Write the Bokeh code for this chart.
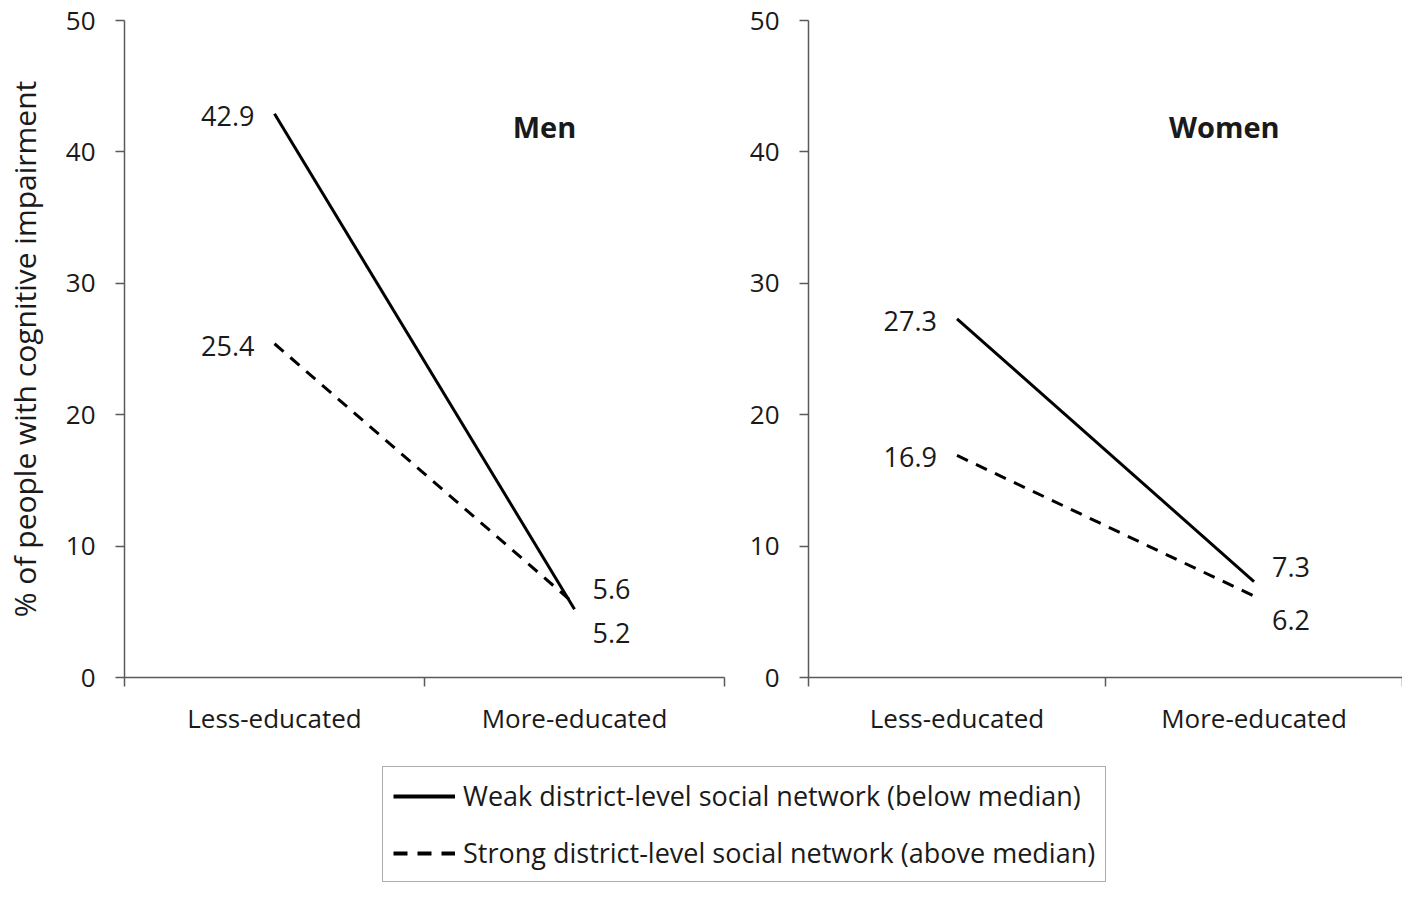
from bokeh.plotting import figure
from bokeh.models import Range1d, FixedTicker, Label, Legend, LegendItem, ColumnDataSource
from bokeh.layouts import column, row
from bokeh.embed import file_html
from bokeh.resources import INLINE
from bokeh.core.properties import value

# ---------------- data ----------------
categories = ["Less-educated", "More-educated"]
men_weak = [42.9, 5.2]
men_strong = [25.4, 5.6]
women_weak = [27.3, 7.3]
women_strong = [16.9, 6.2]
y_ticks = [0, 10, 20, 30, 40, 50]
series_labels = [
    "Weak district-level social network (below median)",
    "Strong district-level social network (above median)",
]
panel_titles = ["Men", "Women"]
y_title = "% of people with cognitive impairment"

# ---------------- style ----------------
FONT = "Open Sans"
TXT = "#1a1a1a"
AX = "#5a5a5a"
FS = "26px"
NUM_FS = "27px"
ROW_H = 766

xpos = [i + 0.5 for i in range(len(categories))]
bounds = [float(i) for i in range(len(categories) + 1)]


def make_panel(weak, strong, title, width, mb_left, mb_right, show_ytitle):
    p = figure(width=width, height=ROW_H, x_range=Range1d(0, len(categories)),
               y_range=Range1d(y_ticks[0], y_ticks[-1]),
               output_backend="svg", toolbar_location=None,
               min_border_left=mb_left, min_border_right=mb_right,
               min_border_top=20, min_border_bottom=89)
    p.outline_line_color = None
    p.grid.visible = False

    xa = p.xaxis[0]
    xa.ticker = FixedTicker(ticks=xpos, minor_ticks=bounds)
    xa.major_label_overrides = {x: c for x, c in zip(xpos, categories)}
    xa.major_tick_line_color = None
    xa.major_tick_out = 9
    xa.major_tick_in = 0
    xa.minor_tick_line_color = AX
    xa.minor_tick_line_width = 1.5
    xa.minor_tick_out = 9
    xa.minor_tick_in = 0
    xa.axis_line_color = AX
    xa.axis_line_width = 1.5
    xa.major_label_standoff = 13
    xa.major_label_text_font = FONT
    xa.major_label_text_font_size = FS
    xa.major_label_text_color = TXT

    ya = p.yaxis[0]
    ya.ticker = FixedTicker(ticks=y_ticks, minor_ticks=[])
    ya.major_tick_out = 9
    ya.major_tick_in = 0
    ya.major_tick_line_color = AX
    ya.major_tick_line_width = 1.5
    ya.axis_line_color = AX
    ya.axis_line_width = 1.5
    ya.major_label_standoff = 20
    ya.major_label_text_font = FONT
    ya.major_label_text_font_size = FS
    ya.major_label_text_color = TXT
    if show_ytitle:
        ya.axis_label = y_title
        ya.axis_label_text_font = FONT
        ya.axis_label_text_font_size = "30px"
        ya.axis_label_text_font_style = "normal"
        ya.axis_label_text_color = TXT
        ya.axis_label_standoff = 18

    p.line(xpos, weak, line_color="black", line_width=3)
    p.line(xpos, strong, line_color="black", line_width=3, line_dash="12 9")

    left = ColumnDataSource(dict(x=[xpos[0], xpos[0]], y=[weak[0], strong[0]],
                                 t=[f"{weak[0]:.1f}", f"{strong[0]:.1f}"]))
    p.text(x="x", y="y", text="t", source=left, x_offset=-20, y_offset=2,
           text_align="right", text_baseline="middle", text_font=value(FONT),
           text_font_size=NUM_FS, text_color=TXT)

    hi_first = weak[1] >= strong[1]
    offs = [-15, 24] if hi_first else [24, -15]
    right = ColumnDataSource(dict(x=[xpos[1], xpos[1]], y=[weak[1], strong[1]],
                                  t=[f"{weak[1]:.1f}", f"{strong[1]:.1f}"], yo=offs))
    p.text(x="x", y="y", text="t", source=right, x_offset=18, y_offset="yo",
           text_align="left", text_baseline="middle", text_font=value(FONT),
           text_font_size=NUM_FS, text_color=TXT)

    p.add_layout(Label(x=1.4, y=41.9, text=title, text_align="center",
                       text_baseline="middle", text_font=FONT,
                       text_font_style="bold", text_font_size="29px",
                       text_color=TXT))
    return p


p1 = make_panel(men_weak, men_strong, panel_titles[0], 745, 121, 21, True)
p2 = make_panel(women_weak, women_strong, panel_titles[1], 657, 63, 0, False)

lg = figure(width=1402, height=118, output_backend="svg", toolbar_location=None,
            x_range=Range1d(0, 1), y_range=Range1d(0, 1), min_border=0,
            x_axis_location=None, y_axis_location=None)
lg.grid.visible = False
lg.outline_line_color = None
# legend-only renderers, kept outside the visible range
r1 = lg.line([-5, -4], [-5, -5], line_color="black", line_width=4)
r2 = lg.line([-5, -4], [-5, -5], line_color="black", line_width=4, line_dash="14 10")
legend = Legend(items=[LegendItem(label=series_labels[0], renderers=[r1]),
                       LegendItem(label=series_labels[1], renderers=[r2])],
                location=(382, 2), orientation="vertical",
                border_line_color=AX, border_line_width=1.5,
                padding=10, spacing=20, margin=0,
                glyph_width=62, glyph_height=30, label_height=30,
                label_standoff=8, label_text_font=FONT,
                label_text_font_size="27px", label_text_color=TXT)
lg.add_layout(legend)

layout = column(row(p1, p2), lg)
open("out.html", "w").write(file_html(layout, INLINE))
